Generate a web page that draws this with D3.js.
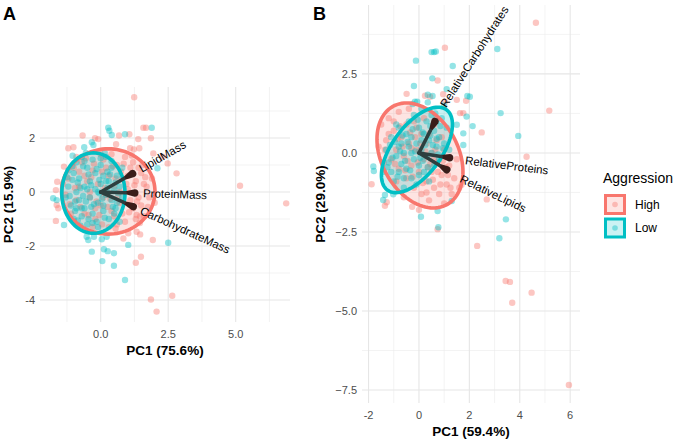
<!DOCTYPE html>
<html>
<head>
<meta charset="utf-8">
<script src="https://cdn.jsdelivr.net/npm/d3@7"></script>
<style>
  body { margin: 0; background: #fff; }
  svg { font-family: "Liberation Sans", Arial, sans-serif; }
</style>
</head>
<body>
<div id="chart"></div>
<script>
// groups and colours
const groups = ["High", "Low"];
const groupColors = ["#F8766D", "#00BFC4"];

// ---- panel A (absolute masses) ----
const highA = [
  [1.24,3.51],[1.58,2.38],[1.68,2.38],[-0.67,2.09],[-0.21,1.99],[-0.09,1.96],[0.68,2.09],[1.06,2.14],
  [1.39,1.96],[1.86,1.99],[0.57,1.77],[1.09,1.62],[1.23,1.58],[1.43,1.62],[-1.2,1.62],[-1.01,1.66],
  [1.95,1.43],[2.3,1.31],[2.81,0.69],[2.48,1.06],[-1.36,0.94],[-1.61,0.38],[-1.66,0.07],[5.16,0.23],
  [6.87,-0.42],[-1.66,-1.07],[-1.63,-0.48],[-1.57,-0.6],[1.02,-1.53],[1.33,-1.47],[1.46,-1.57],
  [0.84,-1.72],[1.93,-1.78],[1.49,-2.4],[1.3,-2.62],[2.65,-3.84],[1.86,-3.98],[2.07,-4.43],
  [1.33,-0.85],[1.46,-0.91],
  [-1.2,0.5],[-1.0,0.9],[-0.9,-0.3],[-0.8,0.2],[-0.7,1.1],[-0.6,-0.8],[-0.5,0.4],[-0.4,-0.2],
  [-0.3,0.8],[-0.2,-1.0],[-0.1,0.3],[0,-0.5],[0.1,1.2],[0.2,-0.1],[0.3,0.6],[0.4,-0.7],[0.5,0.2],
  [0.6,1.0],[0.7,-0.4],[0.8,0.5],[0.9,-1.1],[1.0,0.1],[1.1,0.9],[1.2,-0.6],[1.3,0.4],[1.4,-0.2],
  [1.5,0.7],[1.6,-0.9],[1.7,0.2],[0.9,1.3],[1.2,1.1],[1.5,-0.5],[1.1,-0.3],[0.6,-1.2],[0.3,-1.3],
  [-0.3,-1.3],[-1.1,-0.8],[-1.3,-0.1],[-0.9,1.3],[0.0,1.4],[0.4,1.4],[1.3,-1.0],[1.6,0.3],[1.8,-0.2],
  [0.7,0.0],[0.2,0.9],[-0.6,0.6],[-0.2,-0.6],[0.5,-0.9],[1.0,0.6],[1.4,0.9],[0.8,-0.8],[-1.4,0.3],
  [-1.0,-1.1],[0.1,-0.2],[-0.4,0.0],[1.9,0.5],[2.0,-0.4],
  [-0.95,0.15],[-0.75,-0.55],[-0.55,1.25],[-0.35,0.55],[-0.15,-0.35],[0.05,0.75],[0.25,-0.55],
  [0.45,0.95],[0.65,-0.15],[0.85,1.05],[1.05,-0.75],[1.25,0.25],[1.45,-1.15],[1.65,0.55],[0.15,0.15],
  [-0.25,1.05],[0.55,-1.35],[1.15,1.35],[1.75,-0.55],[-1.15,-0.45],[0.95,0.3],[0.35,-0.25],
  [-0.45,-0.85],[0.75,0.75],[1.35,-0.35],[-0.05,-0.85],[0.55,0.5],[-0.8,0.75],[1.55,1.0],[0.05,-1.2]
];
const lowA = [
  [0.28,2.38],[0.32,2.27],[0.41,2.11],[1.89,2.38],[0.9,2.14],[-0.61,1.66],[-0.33,1.84],[-0.27,1.74],
  [-1.04,1.34],[2.1,0.88],[-1.76,-0.23],[-1.63,-0.3],[-1.36,-1.22],[-0.52,-1.66],[-0.46,-1.78],
  [-0.25,-1.66],[0.04,-1.75],[0.22,-1.66],[1.02,-1.96],[2.5,-1.88],[-0.33,-2.21],[0.12,-2.12],
  [0.26,-2.19],[0.49,-2.27],[0.06,-2.56],[0.49,-2.73],[0.9,-3.26],
  [-1.2,0.2],[-1.1,-0.5],[-1.0,0.7],[-1.0,-1.0],[-0.9,0.0],[-0.9,1.1],[-0.8,-0.3],[-0.8,0.5],
  [-0.7,-0.9],[-0.7,1.3],[-0.6,0.2],[-0.6,-0.6],[-0.5,0.9],[-0.5,-1.2],[-0.4,0.4],[-0.4,-0.2],
  [-0.3,1.2],[-0.3,-0.8],[-0.2,0.1],[-0.2,0.7],[-0.1,-0.4],[-0.1,-1.3],[0.0,1.0],[0.0,0.3],
  [0.1,-0.7],[0.1,0.6],[0.2,-0.1],[0.2,1.3],[0.3,-1.0],[0.3,0.4],[0.4,-0.3],[0.4,0.9],[0.5,0.1],
  [0.5,-0.8],[0.6,0.6],[0.6,-0.4],[0.7,0.2],[0.7,-1.1],[0.8,0.9],[0.8,-0.2],[-1.3,-0.2],[-1.2,0.8],
  [-0.95,-0.7],[-0.55,1.45],[-0.15,-1.1],[0.15,1.45],[-0.85,0.35],[-0.45,0.65],[-0.65,-0.15],
  [-0.05,-0.05],[0.25,0.75],[-0.35,-0.55],[0.55,-0.6],[-1.05,0.45],[-0.75,-1.25],
  [-1.15,-0.15],[-1.05,0.95],[-0.95,-0.35],[-0.85,-1.05],[-0.75,0.15],[-0.65,0.95],[-0.55,-0.35],
  [-0.45,-1.0],[-0.35,0.25],[-0.25,-0.45],[-0.15,0.85],[-0.05,0.45],[0.05,-0.25],[0.15,-0.95],
  [0.25,0.15],[0.35,0.65],[0.45,-0.55],[0.55,0.35],[0.65,-0.05],[-1.25,0.55],[-0.6,1.15],
  [-0.3,-1.15],[0.0,1.25],[0.4,1.15],[-0.9,-0.6],[-0.1,0.0],[-0.5,0.1],[0.2,0.4],[-0.7,-0.6],[0.1,-0.5]
];
const varsA = ["LipidMass", "ProteinMass", "CarbohydrateMass"];
const loadA = [[1.3,0.75],[1.4,-0.04],[1.33,-0.6]];
// ellipse: centre, then two semi-axis vectors (data units)
const ellA = [[0.28,0.02, 1.73,0, 0,1.58], [-0.27,-0.04, 1.17,0, 0,1.49]];
const xTicksA = [0, 2.5, 5.0];
const yTicksA = [-4, -2, 0, 2];

// ---- panel B (relative composition) ----
const highB = [
  [1.03,3.33],[0.74,2.29],[-0.49,1.87],[0.24,1.81],[0.44,1.78],[0.96,1.86],[1.5,1.68],[1.87,1.65],
  [1.03,1.62],[4.64,4.12],[5.17,1.34],[2.49,0.65],[4.27,-0.12],[2.69,-1.47],[1.69,-1.01],
  [0.74,-2.41],[2.31,-2.94],[3.44,-4.05],[3.61,-4.08],[4.47,-4.42],[3.7,-4.74],[-1.35,-1.67],
  [-1.28,-1.56],[-0.27,-1.7],[5.95,-7.34],[-1.88,-0.99],[1.63,1.26],[1.76,1.26],
  [-1.5,0.9],[-1.3,0.4],[-1.2,1.1],[-1.1,-0.2],[-1.0,0.7],[-0.9,0.1],[-0.8,1.3],[-0.8,-0.5],
  [-0.7,0.5],[-0.6,-0.1],[-0.5,0.9],[-0.5,-0.8],[-0.4,0.3],[-0.3,-0.4],[-0.2,1.0],[-0.2,-1.1],
  [-0.1,0.1],[0.0,-0.6],[0.1,0.6],[0.1,-1.3],[0.2,-0.2],[0.3,0.3],[0.3,-0.9],[0.4,-1.5],[0.5,0.0],
  [0.5,-0.6],[0.6,-1.1],[0.7,0.4],[0.7,-0.3],[0.8,-1.3],[0.9,-0.7],[1.0,0.1],[1.1,-1.0],[1.2,-0.4],
  [1.3,-1.3],[1.4,-0.8],[1.5,-0.2],[-1.4,-0.3],[-0.9,-0.9],[0.2,1.1],[-0.4,1.4],[0.6,0.9],
  [1.0,-1.6],[0.0,-1.8],[-0.6,-1.4],[1.6,-1.1],[-1.6,0.2],[0.9,0.5],[-0.15,0.5],[0.35,-0.45],
  [-1.2,0.6],[-1.0,1.0],[-0.95,-0.35],[-0.75,0.85],[-0.65,0.2],[-0.45,-0.25],[-0.35,0.65],
  [-0.25,-0.75],[-0.05,-0.3],[0.05,0.3],[0.15,-0.95],[0.25,0.05],[0.45,-0.35],[0.55,-0.85],
  [0.65,0.1],[0.75,-0.6],[0.85,-1.0],[0.95,-0.25],[1.15,-0.7],[1.25,-1.1],[-0.85,0.45],[-0.1,0.8],
  [0.4,0.6],[-0.55,-0.55],[0.3,-1.25],[1.05,-0.45],[-1.35,0.1],[0.0,0.05],[-0.3,0.15],[0.6,-0.2]
];
const lowB = [
  [0.5,3.19],[0.6,3.19],[0.67,3.21],[-0.12,2.92],[1.34,2.75],[0.53,2.36],[-0.2,2.12],[1.1,2.02],
  [0.35,1.84],[0.54,1.8],[1.92,1.8],[-0.07,1.62],[3.11,3.29],[3.24,1.26],[2.02,1.78],[1.89,1.15],
  [2.13,0.85],[1.76,0.62],[3.94,0.54],[1.76,0.25],[3.45,-2.1],[3.19,-2.7],[0.08,-2.02],[0.74,-1.84],
  [1.3,-1.52],[-1.81,-0.43],[-1.79,-0.57],[-1.35,-1.33],[-1.42,-1.49],[-1.02,-1.31],[0.77,-2.35],
  [1.5,0.89],[-0.16,1.62],
  [-1.4,-0.6],[-1.3,0.1],[-1.2,-0.3],[-1.1,0.5],[-1.0,-0.9],[-0.9,-0.1],[-0.8,0.8],[-0.8,-0.6],
  [-0.7,0.3],[-0.6,-1.1],[-0.6,0.0],[-0.5,0.6],[-0.5,-0.5],[-0.4,1.0],[-0.4,0.2],[-0.3,-0.8],
  [-0.3,0.5],[-0.2,-0.2],[-0.2,1.2],[-0.1,0.3],[-0.1,-1.0],[0.0,0.8],[0.0,-0.4],[0.1,0.1],[0.1,1.4],
  [0.2,-0.6],[0.2,0.6],[0.3,1.0],[0.3,-0.1],[0.4,0.4],[0.4,-0.9],[0.5,1.2],[0.5,0.0],[0.6,0.7],
  [0.6,-0.4],[0.7,1.0],[0.7,0.2],[0.8,0.5],[0.8,-0.2],[0.9,1.1],[1.0,0.3],[1.1,0.8],[1.2,0.1],
  [1.0,1.5],[-0.9,0.9],[-1.1,-0.6],[-0.25,1.55],[0.35,1.6],[-0.7,-0.35],[0.15,-0.25],
  [-1.25,-0.45],[-1.15,0.25],[-1.05,-0.15],[-0.95,0.35],[-0.85,-0.75],[-0.75,0.05],[-0.65,0.55],
  [-0.55,-0.25],[-0.45,0.35],[-0.35,-0.55],[-0.25,0.75],[-0.15,0.05],[-0.05,1.05],[0.05,-0.15],
  [0.15,0.65],[0.25,0.25],[0.35,-0.45],[0.45,0.85],[0.55,0.25],[0.65,1.25],[0.75,-0.05],[0.85,0.85],
  [0.95,0.15],[-0.6,-0.8],[-0.3,0.0],[0.1,0.4],[0.45,0.55],[-0.8,0.2],[0.0,-0.7],[0.7,0.45]
];
const varsB = ["RelativeCarbohydrates", "RelativeProteins", "RelativeLipids"];
const loadB = [[0.7,1.1],[1.36,-0.17],[1.23,-0.59]];
const ellB = [[0.04,-0.08, 1.706,-0.516, 0,-1.579], [-0.08,0.095, 1.409,0.802, 0,-1.087]];
const xTicksB = [-2, 0, 2, 4, 6];
const yTicksB = [-7.5, -5.0, -2.5, 0.0, 2.5];

const WIDTH = 680, HEIGHT = 441;
const svg = d3.select("#chart").append("svg")
  .attr("width", WIDTH).attr("height", HEIGHT);

function drawPanel(p) {
  const x = d3.scaleLinear().domain(p.xDom).range(p.xRange);
  const y = d3.scaleLinear().domain(p.yDom).range(p.yRange);
  const g = svg.append("g");

  // minor grid = midpoints between majors
  const minor = (ticks, dom) => {
    const step = ticks[1] - ticks[0];
    const out = [];
    for (let v = ticks[0] - step / 2; v <= dom[1]; v += step) if (v >= dom[0]) out.push(v);
    return out;
  };
  g.selectAll(".vminor").data(minor(p.xTicks, p.xDom)).enter().append("line")
    .attr("x1", d => x(d)).attr("x2", d => x(d))
    .attr("y1", p.yRange[0]).attr("y2", p.yRange[1])
    .attr("stroke", "#ebebeb").attr("stroke-width", 0.6);
  g.selectAll(".hminor").data(minor(p.yTicks, p.yDom)).enter().append("line")
    .attr("y1", d => y(d)).attr("y2", d => y(d))
    .attr("x1", p.xRange[0]).attr("x2", p.xRange[1])
    .attr("stroke", "#ebebeb").attr("stroke-width", 0.6);
  g.selectAll(".vmajor").data(p.xTicks).enter().append("line")
    .attr("x1", d => x(d)).attr("x2", d => x(d))
    .attr("y1", p.yRange[0]).attr("y2", p.yRange[1])
    .attr("stroke", "#e6e6e6").attr("stroke-width", 1.1);
  g.selectAll(".hmajor").data(p.yTicks).enter().append("line")
    .attr("y1", d => y(d)).attr("y2", d => y(d))
    .attr("x1", p.xRange[0]).attr("x2", p.xRange[1])
    .attr("stroke", "#e6e6e6").attr("stroke-width", 1.1);

  // tick labels
  g.selectAll(".xt").data(p.xTicks).enter().append("text")
    .attr("x", d => x(d)).attr("y", p.yRange[0] + 16)
    .attr("text-anchor", "middle").attr("font-size", "11px").attr("fill", "#4d4d4d")
    .text(d => p.xFmt(d));
  g.selectAll(".yt").data(p.yTicks).enter().append("text")
    .attr("x", p.xRange[0] - 5).attr("y", d => y(d)).attr("dy", "0.35em")
    .attr("text-anchor", "end").attr("font-size", "11px").attr("fill", "#4d4d4d")
    .text(d => p.yFmt(d));

  // axis titles + tag
  g.append("text")
    .attr("x", (p.xRange[0] + p.xRange[1]) / 2).attr("y", p.yRange[0] + 33)
    .attr("text-anchor", "middle").attr("font-size", "13.5px").attr("font-weight", "bold")
    .text(p.xTitle);
  g.append("text")
    .attr("transform", `translate(${p.yTitleX},${(p.yRange[0] + p.yRange[1]) / 2}) rotate(-90)`)
    .attr("text-anchor", "middle").attr("font-size", "13.5px").attr("font-weight", "bold")
    .text(p.yTitle);
  g.append("text").attr("x", p.tag[1]).attr("y", 20)
    .attr("font-size", "18px").attr("font-weight", "bold").text(p.tag[0]);

  // ellipse outlines (centre + conjugate semi-axes)
  const ellPath = e => {
    const pts = d3.range(0, 101).map(i => {
      const t = i / 100 * 2 * Math.PI;
      return [x(e[0] + Math.cos(t) * e[2] + Math.sin(t) * e[4]),
              y(e[1] + Math.cos(t) * e[3] + Math.sin(t) * e[5])];
    });
    return d3.line()(pts) + "Z";
  };
  g.selectAll(".ellfill").data(p.ell).enter().append("path")
    .attr("d", ellPath).attr("fill", (d, i) => groupColors[i]).attr("fill-opacity", 0.2);

  // points
  [p.high, p.low].forEach((pts, i) => {
    g.selectAll(".pt" + i).data(pts).enter().append("circle")
      .attr("cx", d => x(d[0])).attr("cy", d => y(d[1])).attr("r", 3.2)
      .attr("fill", groupColors[i]).attr("fill-opacity", 0.42);
  });

  g.selectAll(".ellline").data(p.ell).enter().append("path")
    .attr("d", ellPath).attr("fill", "none")
    .attr("stroke", (d, i) => groupColors[i]).attr("stroke-width", 3.6);

  // loading arrows: slate shaft, dark tapered head
  const x0 = x(0), y0 = y(0);
  p.load.forEach((l, i) => {
    const tx = x(l[0]), ty = y(l[1]);
    const len = Math.hypot(tx - x0, ty - y0);
    const dx = (tx - x0) / len, dy = (ty - y0) / len;
    const nx = -dy, ny = dx;
    const hl = Math.min(15, len * 0.38);
    const sx = tx - dx * hl, sy = ty - dy * hl;
    const ex = tx - dx * 3.8, ey = ty - dy * 3.8;
    g.append("path")
      .attr("d", `M${sx + nx * 1.2},${sy + ny * 1.2} L${ex + nx * 3.8},${ey + ny * 3.8} ` +
                 `A3.8,3.8 0 0 0 ${ex - nx * 3.8},${ey - ny * 3.8} L${sx - nx * 1.2},${sy - ny * 1.2} Z`)
      .attr("fill", "#3a1d1a");
    g.append("line")
      .attr("x1", x0).attr("y1", y0).attr("x2", sx + dx * 1).attr("y2", sy + dy * 1)
      .attr("stroke", "#2d3f3f").attr("stroke-width", 3.6).attr("stroke-linecap", "round");
    const ang = Math.atan2(l[1], l[0]) * 180 / Math.PI;
    const lx = x(l[0] * p.labAdj), ly = y(l[1] * p.labAdj);
    g.append("text")
      .attr("transform", `translate(${lx},${ly}) rotate(${-ang})`)
      .attr("dy", "0.35em").attr("font-size", "11.5px").attr("fill", "#000")
      .text(p.vars[i]);
  });
}

drawPanel({
  xDom: [-2.248, 7.011], xRange: [40, 290],
  yDom: [-4.815, 3.889], yRange: [322, 87],
  xTicks: xTicksA, yTicks: yTicksA,
  xFmt: d3.format(".1f"), yFmt: d => String(d),
  xTitle: "PC1 (75.6%)", yTitle: "PC2 (15.9%)", yTitleX: 13, tag: ["A", 3],
  high: highA, low: lowA, ell: ellA, load: loadA, vars: varsA, labAdj: 1.12
});
drawPanel({
  xDom: [-2.26, 6.39], xRange: [362, 580],
  yDom: [-7.91, 4.68], yRange: [403, 5],
  xTicks: xTicksB, yTicks: yTicksB,
  xFmt: d => String(d), yFmt: d3.format(".1f"),
  xTitle: "PC1 (59.4%)", yTitle: "PC2 (29.0%)", yTitleX: 325, tag: ["B", 313],
  high: highB, low: lowB, ell: ellB, load: loadB, vars: varsB, labAdj: 1.35
});

// legend
const leg = svg.append("g").attr("transform", "translate(603,0)");
leg.append("text").attr("x", 0).attr("y", 183).attr("font-size", "14px").text("Aggression");
groups.forEach((gname, i) => {
  const top = 194 + i * 23.5;
  leg.append("rect").attr("x", 2.5).attr("y", top + 1.5).attr("width", 19).attr("height", 18)
    .attr("fill", groupColors[i]).attr("fill-opacity", 0.2)
    .attr("stroke", groupColors[i]).attr("stroke-width", 3);
  leg.append("circle").attr("cx", 12).attr("cy", top + 10.5).attr("r", 2.8)
    .attr("fill", groupColors[i]).attr("fill-opacity", 0.4);
  leg.append("text").attr("x", 32).attr("y", top + 10.5).attr("dy", "0.35em")
    .attr("font-size", "12px").text(gname);
});
</script>
</body>
</html>
